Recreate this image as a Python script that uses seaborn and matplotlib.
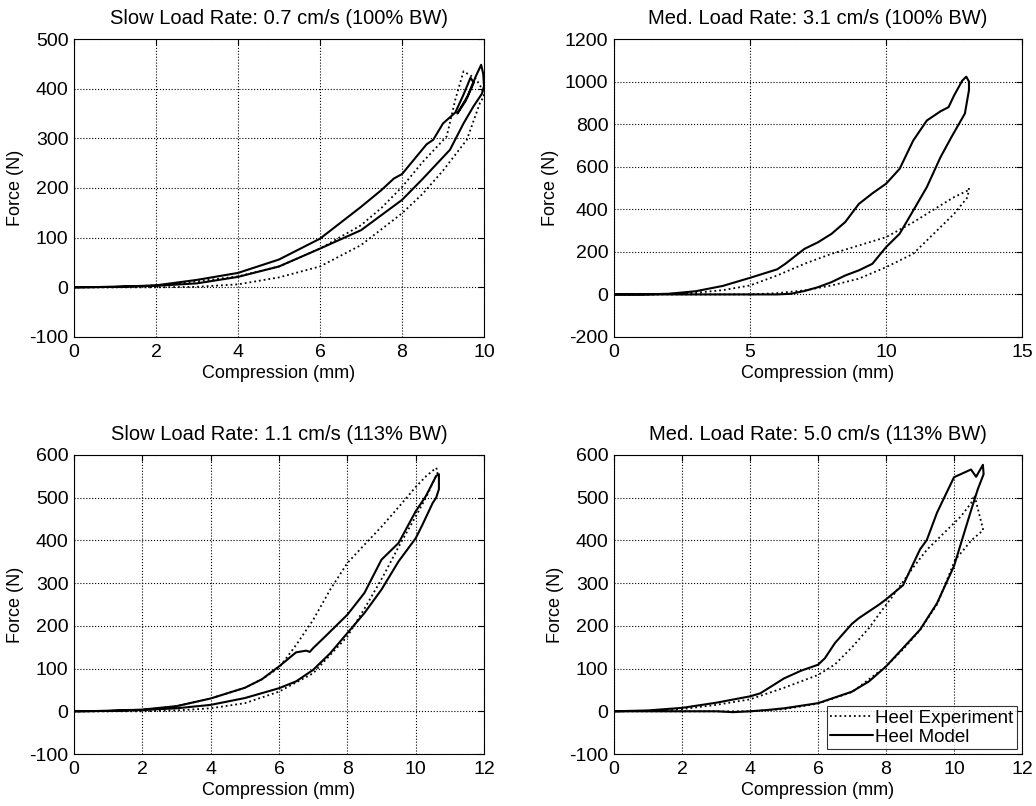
import numpy as np
import pandas as pd
import matplotlib
matplotlib.use("Agg")
import matplotlib.pyplot as plt
import seaborn as sns

# ---------------------------------------------------------------
# Data (loading branch then unloading branch)
# ---------------------------------------------------------------

titles = [
    "Slow Load Rate: 0.7 cm/s (100% BW)",
    "Med. Load Rate: 3.1 cm/s (100% BW)",
    "Slow Load Rate: 1.1 cm/s (113% BW)",
    "Med. Load Rate: 5.0 cm/s (113% BW)",
]

# panel 1
p1_model_x = [0, 1, 2, 3, 4, 5, 6, 7, 7.5, 7.8, 8, 8.6, 8.76, 9, 9.3, 9.5, 9.67, 9.75,
              9.55, 9.35, 9.6, 9.8, 9.93, 9.98, 10.0, 9.95, 9.74, 9.5, 9.17, 8.5, 8,
              7, 6, 5, 4, 3, 2, 1, 0]
p1_model_y = [0, 1, 4, 15, 29, 56, 98, 162, 196, 219, 228, 288, 297, 330, 352, 388, 422, 412,
              375, 350, 385, 425, 448, 430, 405, 390, 364, 330, 277, 218, 176,
              115, 78, 42, 21, 8, 3, 1, 0]
p1_exp_x = [0, 1, 2, 3, 4, 5, 6, 7, 7.5, 8, 8.5, 9.09, 9.3, 9.5, 9.8, 9.95, 10.0,
            9.9, 9.58, 9, 8.5, 8, 7, 6, 5, 4, 3, 2, 1, 0]
p1_exp_y = [0, 0, 4, 12, 22, 42, 78, 125, 160, 202, 252, 304, 378, 435, 420, 400, 385,
            371, 297, 235, 188, 149, 85, 42, 20, 6, 1, 0, 0, 0]

# panel 2
p2_model_x = [0, 1, 2, 3, 4, 5, 6, 6.3, 7, 7.5, 8, 8.5, 9, 9.5, 10, 10.5, 11, 11.5,
              12, 12.3, 12.5, 12.8, 12.95, 13.05, 13.05, 12.9, 12.4, 12, 11.5, 11,
              10.5, 10, 9.5, 9, 8.5, 8, 7.5, 7, 6.5, 6, 4, 2, 0]
p2_model_y = [0, 0, 3, 15, 40, 78, 118, 144, 214, 245, 285, 340, 425, 475, 520, 590, 723, 817,
              860, 880, 934, 1004, 1023, 1000, 960, 850, 738, 644, 504, 394,
              285, 222, 144, 113, 89, 58, 34, 16, 3, 0, 0, 0, 0]
p2_exp_x = [0, 1, 2, 3, 4, 5, 6, 7, 8, 9, 10, 11, 12, 12.5, 13, 13.05,
            13.0, 12.5, 12, 11, 10, 9, 8, 7, 6, 5, 4, 2, 0]
p2_exp_y = [0, 0, 2, 8, 20, 42, 89, 144, 191, 230, 269, 339, 418, 457, 488, 500,
            457, 378, 316, 191, 128, 74, 42, 19, 6, 0, 0, 0, 0]

# panel 3
p3_model_x = [0, 1, 2, 3, 4, 5, 5.5, 6, 6.5, 6.8, 6.9, 7, 7.3, 8, 8.5, 9, 9.5, 10,
              10.3, 10.6, 10.68, 10.68, 10.6, 10.5, 10.2, 10, 9.5, 9, 8.5, 8, 7.5,
              7, 6.5, 6, 5, 4, 3, 2, 1, 0]
p3_model_y = [0, 1, 4, 12, 30, 55, 75, 105, 138, 142, 139, 148, 171, 226, 277, 355, 394, 468,
              504, 551, 555, 520, 500, 488, 437, 405, 351, 285, 230, 183, 136,
              97, 70, 54, 31, 15, 7, 3, 1, 0]
p3_exp_x = [0, 1, 2, 3, 4, 5, 5.5, 6, 6.5, 7, 7.5, 8, 8.5, 9, 9.5, 10, 10.3, 10.6,
            10.65, 10.3, 10, 9.5, 9.04, 8.5, 8, 7, 6, 5, 4, 3, 2, 1, 0]
p3_exp_y = [0, 0, 3, 12, 30, 55, 75, 102, 155, 214, 285, 347, 390, 432, 478, 525, 550, 570,
            560, 500, 456, 385, 315, 240, 175, 89, 46, 19, 7, 2, 0, 0, 0]

# panel 4
p4_model_x = [0, 1, 2, 3, 4, 4.3, 5, 5.5, 6, 6.2, 6.5, 7, 7.2, 7.8, 8, 8.5, 9, 9.2, 9.5,
              10, 10.5, 10.65, 10.85, 10.87, 10.7, 10.5, 10, 9.5, 9, 8.5, 8, 7.5,
              7, 6, 5, 4.5, 4, 3.5, 3, 2, 0]
p4_model_y = [0, 2, 8, 20, 35, 42, 77, 95, 109, 124, 160, 205, 218, 250, 262, 295, 379, 401, 465,
              548, 566, 549, 577, 555, 520, 470, 340, 253, 191, 148, 105, 70,
              46, 19, 7, 3, 0, -2, 0, 0, 0]
p4_exp_x = [0, 1, 2, 3, 4, 5, 6, 6.5, 7, 7.5, 7.82, 8.2, 8.82, 9.2, 9.7, 10.2, 10.5, 10.6,
            10.86, 10.52, 10.03, 9.5, 9, 8.5, 8, 7, 6, 5, 4, 2, 0]
p4_exp_y = [0, 1, 5, 15, 28, 55, 85, 110, 150, 195, 230, 270, 339, 378, 417, 456, 487, 506,
            424, 401, 354, 250, 190, 145, 105, 45, 18, 5, 0, 0, 0]

panels = [
    (p1_model_x, p1_model_y, p1_exp_x, p1_exp_y),
    (p2_model_x, p2_model_y, p2_exp_x, p2_exp_y),
    (p3_model_x, p3_model_y, p3_exp_x, p3_exp_y),
    (p4_model_x, p4_model_y, p4_exp_x, p4_exp_y),
]

x_limits = [(0, 10), (0, 15), (0, 12), (0, 12)]
y_limits = [(-100, 500), (-200, 1200), (-100, 600), (-100, 600)]
x_ticks = [np.arange(0, 11, 2), np.arange(0, 16, 5), np.arange(0, 13, 2), np.arange(0, 13, 2)]
y_ticks = [np.arange(-100, 501, 100), np.arange(-200, 1201, 200),
           np.arange(-100, 601, 100), np.arange(-100, 601, 100)]

# ---------------------------------------------------------------
# Style (MATLAB-like)
# ---------------------------------------------------------------

sns.set_style("white")
plt.rcParams["font.family"] = ["Liberation Sans", "DejaVu Sans"]
plt.rcParams["xtick.direction"] = "in"
plt.rcParams["ytick.direction"] = "in"
plt.rcParams["axes.unicode_minus"] = False
plt.rcParams["text.color"] = "black"
plt.rcParams["axes.labelcolor"] = "black"
plt.rcParams["xtick.color"] = "black"
plt.rcParams["ytick.color"] = "black"

fig = plt.figure(figsize=(10.36, 8.06), dpi=100)

positions = [
    [0.0714, 0.5819, 0.3958, 0.3697],
    [0.5927, 0.5819, 0.3938, 0.3697],
    [0.0714, 0.0645, 0.3958, 0.3710],
    [0.5927, 0.0645, 0.3938, 0.3710],
]

for i, (mx, my, ex, ey) in enumerate(panels):
    ax = fig.add_axes(positions[i])

    df_exp = pd.DataFrame({"x": ex, "y": ey})
    df_mod = pd.DataFrame({"x": mx, "y": my})

    sns.lineplot(data=df_exp, x="x", y="y", sort=False, estimator=None,
                 color="black", linestyle=":", linewidth=1.3, ax=ax,
                 label="Heel Experiment")
    sns.lineplot(data=df_mod, x="x", y="y", sort=False, estimator=None,
                 color="black", linewidth=1.5, ax=ax,
                 label="Heel Model")

    ax.set_xlim(*x_limits[i])
    ax.set_ylim(*y_limits[i])
    ax.set_xticks(x_ticks[i])
    ax.set_yticks(y_ticks[i])
    ax.grid(True, color="black", linestyle=":", linewidth=0.8)
    ax.tick_params(top=True, right=True, labelsize=14, length=4, width=0.8)
    ax.tick_params(axis="x", pad=5)
    ax.tick_params(axis="y", pad=4)
    for s in ax.spines.values():
        s.set_color("black")
        s.set_linewidth(0.8)

    ax.set_title(titles[i], fontsize=14.5, pad=11)
    ax.set_xlabel("Compression (mm)", fontsize=13, labelpad=3)
    ax.set_ylabel("Force (N)", fontsize=13, labelpad=4)

    if i == 3:
        leg = ax.legend(loc="lower right", fontsize=13.5, frameon=True, fancybox=False,
                        handlelength=2.3, handletextpad=0.1, borderpad=0.2,
                        labelspacing=0.1, borderaxespad=0.25)
        leg.get_frame().set_edgecolor("black")
        leg.get_frame().set_linewidth(0.8)
    else:
        ax.get_legend().remove()

fig.savefig("out.png", dpi=100)
